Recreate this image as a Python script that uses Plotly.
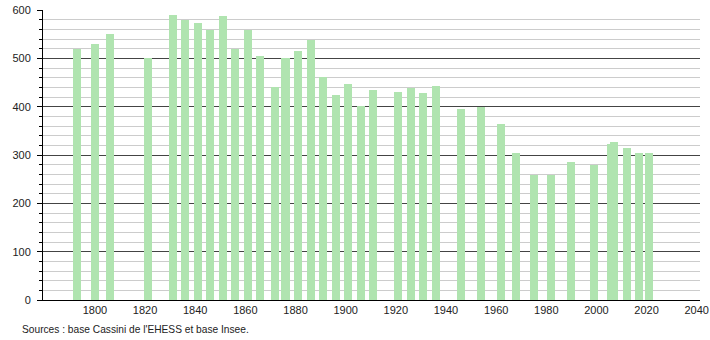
import plotly.graph_objects as go

years = [1793, 1800, 1806, 1821, 1831, 1836, 1841, 1846, 1851, 1856, 1861, 1866,
         1872, 1876, 1881, 1886, 1891, 1896, 1901, 1906, 1911, 1921, 1926, 1931,
         1936, 1946, 1954, 1962, 1968, 1975, 1982, 1990, 1999, 2006, 2007, 2012,
         2017, 2021]
population = [520, 530, 551, 501, 590, 580, 574, 559, 588, 519, 559, 505,
              441, 501, 516, 537, 462, 425, 446, 402, 435, 431, 439, 429,
              443, 396, 399, 365, 305, 259, 259, 286, 279, 323, 327, 315,
              305, 305]
x_ticks = [1800, 1820, 1840, 1860, 1880, 1900, 1920, 1940, 1960, 1980, 2000, 2020, 2040]
y_ticks = [0, 100, 200, 300, 400, 500, 600]
source_text = "Sources : base Cassini de l'EHESS et base Insee."

fig = go.Figure()
fig.add_trace(go.Bar(
    x=years, y=population, width=3.2,
    marker=dict(color="#b0e4b0", line=dict(width=0)),
    hoverinfo="x+y",
))

font = dict(family="Liberation Sans, Arial, sans-serif", size=11, color="#222222")
src_font = dict(family="Liberation Sans, Arial, sans-serif", size=10.2, color="#222222")

fig.update_layout(
    width=710, height=340,
    margin=dict(l=43, r=10, t=10, b=40, pad=0, autoexpand=False),
    paper_bgcolor="white", plot_bgcolor="white",
    showlegend=False,
    font=font,
    bargap=0,
    xaxis=dict(
        range=[1779.3, 2041.3],
        tickvals=x_ticks,
        ticktext=[str(v) for v in x_ticks],
        showgrid=False, zeroline=False,
        showline=True, linecolor="#000000", linewidth=1,
        ticks="", tickfont=font, automargin=False,
        fixedrange=True,
    ),
    yaxis=dict(
        range=[0, 600],
        tickvals=y_ticks,
        showgrid=True, gridcolor="#444444", gridwidth=1,
        zeroline=False,
        showline=True, linecolor="#000000", linewidth=1,
        ticks="outside", ticklen=5, tickcolor="#000000", tickwidth=1,
        tickfont=font, automargin=False,
        ticklabelstandoff=4,
        minor=dict(dtick=20, tick0=0, ticks="outside", ticklen=3, tickcolor="#000000",
                   showgrid=True, gridcolor="#cccccc", gridwidth=1),
        fixedrange=True,
    ),
    annotations=[dict(
        text=source_text, xref="paper", yref="paper",
        x=(20 - 43) / 657, y=(300 - 329) / 290,
        xanchor="left", yanchor="middle", showarrow=False,
        font=src_font,
    )],
)

fig.write_html("out.html")
